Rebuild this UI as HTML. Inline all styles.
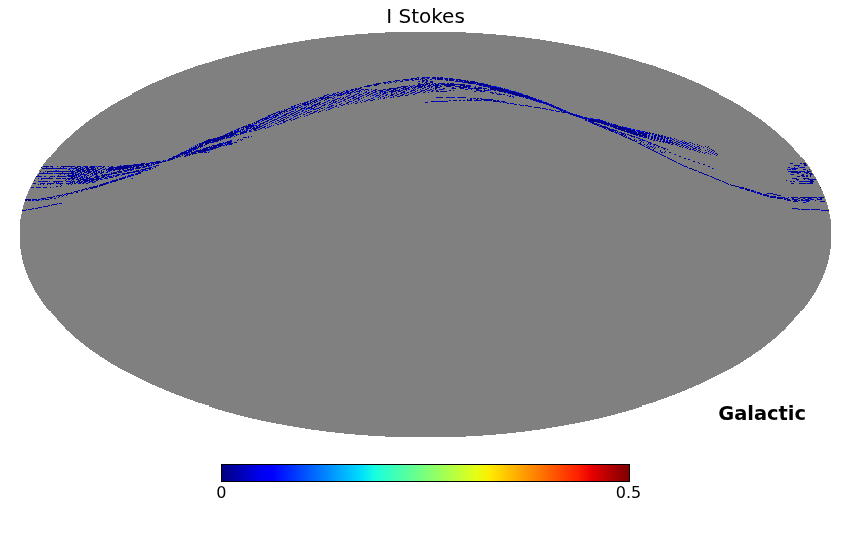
<!DOCTYPE html>
<html><head><meta charset="utf-8"><title>I Stokes</title>
<style>html,body{margin:0;padding:0;background:#fff;overflow:hidden}body{width:850px;height:540px;position:relative}</style>
</head><body>
<svg width="850" height="540" viewBox="0 0 850 540" style="position:absolute;left:0;top:0">
<defs><linearGradient id="jet" x1="0" y1="0" x2="1" y2="0"><stop offset="0.0000" stop-color="#000080"/><stop offset="0.0312" stop-color="#0000a4"/><stop offset="0.0625" stop-color="#0000c8"/><stop offset="0.0938" stop-color="#0000ed"/><stop offset="0.1250" stop-color="#0000ff"/><stop offset="0.1562" stop-color="#0020ff"/><stop offset="0.1875" stop-color="#0040ff"/><stop offset="0.2188" stop-color="#0060ff"/><stop offset="0.2500" stop-color="#0080ff"/><stop offset="0.2812" stop-color="#00a0ff"/><stop offset="0.3125" stop-color="#00c0ff"/><stop offset="0.3438" stop-color="#00e0fb"/><stop offset="0.3750" stop-color="#16ffe1"/><stop offset="0.4062" stop-color="#30ffc7"/><stop offset="0.4375" stop-color="#49ffad"/><stop offset="0.4688" stop-color="#63ff94"/><stop offset="0.5000" stop-color="#7dff7a"/><stop offset="0.5312" stop-color="#97ff60"/><stop offset="0.5625" stop-color="#b1ff46"/><stop offset="0.5938" stop-color="#caff2c"/><stop offset="0.6250" stop-color="#e4ff13"/><stop offset="0.6562" stop-color="#feed00"/><stop offset="0.6875" stop-color="#ffd000"/><stop offset="0.7188" stop-color="#ffb200"/><stop offset="0.7500" stop-color="#ff9400"/><stop offset="0.7812" stop-color="#ff7700"/><stop offset="0.8125" stop-color="#ff5900"/><stop offset="0.8438" stop-color="#ff3b00"/><stop offset="0.8750" stop-color="#ff1e00"/><stop offset="0.9062" stop-color="#e80000"/><stop offset="0.9375" stop-color="#c40000"/><stop offset="0.9688" stop-color="#9f0000"/><stop offset="1.0000" stop-color="#800000"/></linearGradient></defs>
<g shape-rendering="crispEdges">
<path d="M385 32h81v1h-81zM368 33h115v1h-115zM355 34h141v1h-141zM344 35h163v1h-163zM335 36h181v1h-181zM326 37h199v1h-199zM319 38h213v1h-213zM311 39h229v1h-229zM305 40h241v1h-241zM299 41h253v1h-253zM293 42h265v1h-265zM287 43h277v1h-277zM282 44h287v1h-287zM276 45h299v1h-299zM271 46h309v1h-309zM266 47h319v1h-319zM261 48h329v1h-329zM257 49h337v1h-337zM252 50h347v1h-347zM248 51h355v1h-355zM244 52h363v1h-363zM240 53h371v1h-371zM236 54h379v1h-379zM233 55h385v1h-385zM229 56h393v1h-393zM225 57h401v1h-401zM222 58h407v1h-407zM218 59h415v1h-415zM215 60h421v1h-421zM212 61h427v1h-427zM209 62h433v1h-433zM205 63h441v1h-441zM202 64h447v1h-447zM198 65h455v1h-455zM195 66h461v1h-461zM193 67h465v1h-465zM190 68h471v1h-471zM187 69h477v1h-477zM184 70h483v1h-483zM182 71h487v1h-487zM179 72h493v1h-493zM176 73h499v1h-499zM174 74h503v1h-503zM171 75h509v1h-509zM169 76h513v1h-513zM166 77h519v1h-519zM164 78h523v1h-523zM162 79h527v1h-527zM159 80h533v1h-533zM157 81h537v1h-537zM155 82h541v1h-541zM152 83h547v1h-547zM150 84h551v1h-551zM148 85h555v1h-555zM146 86h559v1h-559zM144 87h563v1h-563zM142 88h567v1h-567zM140 89h571v1h-571zM138 90h575v1h-575zM136 91h579v1h-579zM134 92h583v1h-583zM132 93h587v1h-587zM132 94h587v1h-587zM130 95h591v1h-591zM128 96h595v1h-595zM126 97h599v1h-599zM124 98h603v1h-603zM122 99h607v1h-607zM120 100h611v1h-611zM118 101h615v1h-615zM117 102h617v1h-617zM115 103h621v1h-621zM113 104h625v1h-625zM111 105h629v1h-629zM110 106h631v1h-631zM108 107h635v1h-635zM107 108h637v1h-637zM105 109h641v1h-641zM104 110h643v1h-643zM102 111h647v1h-647zM100 112h651v1h-651zM99 113h653v1h-653zM98 114h655v1h-655zM96 115h659v1h-659zM95 116h661v1h-661zM93 117h665v1h-665zM92 118h667v1h-667zM90 119h671v1h-671zM89 120h673v1h-673zM88 121h675v1h-675zM86 122h679v1h-679zM85 123h681v1h-681zM84 124h683v1h-683zM83 125h685v1h-685zM81 126h689v1h-689zM80 127h691v1h-691zM79 128h693v1h-693zM78 129h695v1h-695zM76 130h699v1h-699zM75 131h701v1h-701zM74 132h703v1h-703zM73 133h705v1h-705zM72 134h707v1h-707zM71 135h709v1h-709zM70 136h711v1h-711zM69 137h713v1h-713zM67 138h717v1h-717zM66 139h719v1h-719zM65 140h721v1h-721zM64 141h723v1h-723zM63 142h725v1h-725zM62 143h727v1h-727zM61 144h729v1h-729zM60 145h731v1h-731zM59 146h733v1h-733zM58 147h735v1h-735zM57 148h737v1h-737zM57 149h737v1h-737zM56 150h739v1h-739zM55 151h741v1h-741zM54 152h743v1h-743zM53 153h745v1h-745zM52 154h747v1h-747zM51 155h749v1h-749zM51 156h749v1h-749zM49 157h753v1h-753zM48 158h755v1h-755zM47 159h757v1h-757zM46 160h759v1h-759zM46 161h759v1h-759zM45 162h761v1h-761zM44 163h763v1h-763zM43 164h765v1h-765zM43 165h765v1h-765zM42 166h767v1h-767zM41 167h769v1h-769zM41 168h769v1h-769zM40 169h771v1h-771zM39 170h773v1h-773zM39 171h773v1h-773zM39 172h773v1h-773zM38 173h775v1h-775zM37 174h777v1h-777zM37 175h777v1h-777zM36 176h779v1h-779zM35 177h781v1h-781zM35 178h781v1h-781zM34 179h783v1h-783zM34 180h783v1h-783zM33 181h785v1h-785zM33 182h785v1h-785zM32 183h787v1h-787zM32 184h787v1h-787zM31 185h789v1h-789zM31 186h789v1h-789zM30 187h791v1h-791zM30 188h791v1h-791zM29 189h793v1h-793zM29 190h793v1h-793zM28 191h795v1h-795zM28 192h795v1h-795zM28 193h795v1h-795zM27 194h797v1h-797zM27 195h797v1h-797zM26 196h799v1h-799zM26 197h799v1h-799zM26 198h799v1h-799zM25 199h801v1h-801zM25 200h801v1h-801zM25 201h801v1h-801zM24 202h803v1h-803zM24 203h803v1h-803zM24 204h803v1h-803zM23 205h805v1h-805zM23 206h805v1h-805zM23 207h805v1h-805zM23 208h805v1h-805zM22 209h807v1h-807zM22 210h807v1h-807zM22 211h807v1h-807zM22 212h807v1h-807zM22 213h807v1h-807zM21 214h809v1h-809zM21 215h809v1h-809zM21 216h809v1h-809zM21 217h809v1h-809zM21 218h809v1h-809zM20 219h811v1h-811zM20 220h811v1h-811zM20 221h811v1h-811zM20 222h811v1h-811zM20 223h811v1h-811zM20 224h811v1h-811zM20 225h811v1h-811zM20 226h811v1h-811zM20 227h811v1h-811zM20 228h811v1h-811zM20 229h811v1h-811zM20 230h811v1h-811zM20 231h811v1h-811zM20 232h811v1h-811zM20 233h811v1h-811zM20 234h811v1h-811zM20 235h811v1h-811zM20 236h811v1h-811zM20 237h811v1h-811zM20 238h811v1h-811zM20 239h811v1h-811zM20 240h811v1h-811zM20 241h811v1h-811zM20 242h811v1h-811zM20 243h811v1h-811zM20 244h811v1h-811zM20 245h811v1h-811zM20 246h811v1h-811zM20 247h811v1h-811zM20 248h811v1h-811zM21 249h809v1h-809zM21 250h809v1h-809zM21 251h809v1h-809zM21 252h809v1h-809zM21 253h809v1h-809zM21 254h809v1h-809zM22 255h807v1h-807zM22 256h807v1h-807zM22 257h807v1h-807zM22 258h807v1h-807zM22 259h807v1h-807zM23 260h805v1h-805zM23 261h805v1h-805zM23 262h805v1h-805zM23 263h805v1h-805zM24 264h803v1h-803zM24 265h803v1h-803zM24 266h803v1h-803zM25 267h801v1h-801zM25 268h801v1h-801zM25 269h801v1h-801zM26 270h799v1h-799zM26 271h799v1h-799zM26 272h799v1h-799zM27 273h797v1h-797zM27 274h797v1h-797zM28 275h795v1h-795zM28 276h795v1h-795zM28 277h795v1h-795zM29 278h793v1h-793zM29 279h793v1h-793zM30 280h791v1h-791zM30 281h791v1h-791zM31 282h789v1h-789zM31 283h789v1h-789zM32 284h787v1h-787zM32 285h787v1h-787zM33 286h785v1h-785zM33 287h785v1h-785zM34 288h783v1h-783zM34 289h783v1h-783zM35 290h781v1h-781zM35 291h781v1h-781zM36 292h779v1h-779zM37 293h777v1h-777zM37 294h777v1h-777zM38 295h775v1h-775zM39 296h773v1h-773zM39 297h773v1h-773zM40 298h771v1h-771zM41 299h769v1h-769zM41 300h769v1h-769zM42 301h767v1h-767zM43 302h765v1h-765zM43 303h765v1h-765zM44 304h763v1h-763zM45 305h761v1h-761zM46 306h759v1h-759zM46 307h759v1h-759zM47 308h757v1h-757zM48 309h755v1h-755zM49 310h753v1h-753zM51 311h749v1h-749zM51 312h749v1h-749zM52 313h747v1h-747zM53 314h745v1h-745zM54 315h743v1h-743zM55 316h741v1h-741zM56 317h739v1h-739zM57 318h737v1h-737zM57 319h737v1h-737zM58 320h735v1h-735zM59 321h733v1h-733zM60 322h731v1h-731zM61 323h729v1h-729zM62 324h727v1h-727zM63 325h725v1h-725zM64 326h723v1h-723zM65 327h721v1h-721zM65 328h721v1h-721zM66 329h719v1h-719zM67 330h717v1h-717zM69 331h713v1h-713zM70 332h711v1h-711zM71 333h709v1h-709zM72 334h707v1h-707zM73 335h705v1h-705zM74 336h703v1h-703zM75 337h701v1h-701zM76 338h699v1h-699zM78 339h695v1h-695zM79 340h693v1h-693zM80 341h691v1h-691zM81 342h689v1h-689zM83 343h685v1h-685zM84 344h683v1h-683zM85 345h681v1h-681zM86 346h679v1h-679zM88 347h675v1h-675zM89 348h673v1h-673zM90 349h671v1h-671zM92 350h667v1h-667zM93 351h665v1h-665zM95 352h661v1h-661zM96 353h659v1h-659zM98 354h655v1h-655zM99 355h653v1h-653zM100 356h651v1h-651zM102 357h647v1h-647zM104 358h643v1h-643zM105 359h641v1h-641zM107 360h637v1h-637zM108 361h635v1h-635zM110 362h631v1h-631zM111 363h629v1h-629zM113 364h625v1h-625zM115 365h621v1h-621zM117 366h617v1h-617zM118 367h615v1h-615zM120 368h611v1h-611zM122 369h607v1h-607zM124 370h603v1h-603zM126 371h599v1h-599zM128 372h595v1h-595zM130 373h591v1h-591zM132 374h587v1h-587zM134 375h583v1h-583zM136 376h579v1h-579zM138 377h575v1h-575zM140 378h571v1h-571zM142 379h567v1h-567zM144 380h563v1h-563zM146 381h559v1h-559zM148 382h555v1h-555zM150 383h551v1h-551zM152 384h547v1h-547zM155 385h541v1h-541zM157 386h537v1h-537zM159 387h533v1h-533zM162 388h527v1h-527zM164 389h523v1h-523zM166 390h519v1h-519zM169 391h513v1h-513zM171 392h509v1h-509zM174 393h503v1h-503zM176 394h499v1h-499zM179 395h493v1h-493zM182 396h487v1h-487zM184 397h483v1h-483zM187 398h477v1h-477zM190 399h471v1h-471zM193 400h465v1h-465zM195 401h461v1h-461zM198 402h455v1h-455zM202 403h447v1h-447zM205 404h441v1h-441zM209 405h433v1h-433zM209 406h433v1h-433zM212 407h427v1h-427zM215 408h421v1h-421zM218 409h415v1h-415zM222 410h407v1h-407zM225 411h401v1h-401zM229 412h393v1h-393zM233 413h385v1h-385zM236 414h379v1h-379zM240 415h371v1h-371zM244 416h363v1h-363zM248 417h355v1h-355zM252 418h347v1h-347zM257 419h337v1h-337zM261 420h329v1h-329zM266 421h319v1h-319zM271 422h309v1h-309zM276 423h299v1h-299zM282 424h287v1h-287zM287 425h277v1h-277zM293 426h265v1h-265zM299 427h253v1h-253zM305 428h241v1h-241zM311 429h229v1h-229zM319 430h213v1h-213zM326 431h199v1h-199zM335 432h181v1h-181zM344 433h163v1h-163zM355 434h141v1h-141zM368 435h115v1h-115zM385 436h81v1h-81z" fill="#808080"/>
<path d="M417 77h1v1h-1zM422 77h3v1h-3zM426 77h2v1h-2zM432 77h4v1h-4zM438 77h1v1h-1zM441 77h2v1h-2zM411 78h6v1h-6zM418 78h1v1h-1zM421 78h4v1h-4zM427 78h1v1h-1zM433 78h3v1h-3zM437 78h5v1h-5zM444 78h1v1h-1zM446 78h2v1h-2zM449 78h1v1h-1zM451 78h1v1h-1zM403 79h5v1h-5zM411 79h2v1h-2zM415 79h3v1h-3zM420 79h1v1h-1zM422 79h1v1h-1zM425 79h2v1h-2zM430 79h1v1h-1zM435 79h1v1h-1zM437 79h6v1h-6zM445 79h3v1h-3zM449 79h5v1h-5zM457 79h4v1h-4zM395 80h4v1h-4zM402 80h1v1h-1zM406 80h3v1h-3zM412 80h1v1h-1zM422 80h3v1h-3zM426 80h2v1h-2zM446 80h2v1h-2zM449 80h5v1h-5zM456 80h2v1h-2zM460 80h3v1h-3zM464 80h1v1h-1zM467 80h1v1h-1zM388 81h3v1h-3zM393 81h1v1h-1zM396 81h1v1h-1zM400 81h1v1h-1zM402 81h1v1h-1zM419 81h1v1h-1zM423 81h1v1h-1zM426 81h1v1h-1zM430 81h2v1h-2zM457 81h3v1h-3zM461 81h2v1h-2zM464 81h5v1h-5zM470 81h4v1h-4zM383 82h3v1h-3zM387 82h1v1h-1zM390 82h2v1h-2zM395 82h1v1h-1zM422 82h1v1h-1zM425 82h2v1h-2zM430 82h3v1h-3zM463 82h6v1h-6zM470 82h5v1h-5zM476 82h2v1h-2zM376 83h5v1h-5zM384 83h2v1h-2zM388 83h1v1h-1zM418 83h2v1h-2zM424 83h1v1h-1zM426 83h4v1h-4zM434 83h2v1h-2zM438 83h1v1h-1zM440 83h1v1h-1zM442 83h3v1h-3zM447 83h2v1h-2zM450 83h1v1h-1zM452 83h1v1h-1zM468 83h1v1h-1zM470 83h4v1h-4zM475 83h1v1h-1zM477 83h2v1h-2zM480 83h2v1h-2zM483 83h1v1h-1zM373 84h6v1h-6zM418 84h6v1h-6zM425 84h3v1h-3zM429 84h1v1h-1zM431 84h1v1h-1zM433 84h1v1h-1zM435 84h4v1h-4zM441 84h4v1h-4zM446 84h12v1h-12zM459 84h6v1h-6zM477 84h8v1h-8zM486 84h2v1h-2zM368 85h4v1h-4zM374 85h3v1h-3zM409 85h1v1h-1zM417 85h4v1h-4zM422 85h3v1h-3zM428 85h3v1h-3zM433 85h1v1h-1zM435 85h4v1h-4zM440 85h1v1h-1zM444 85h6v1h-6zM451 85h4v1h-4zM460 85h5v1h-5zM466 85h1v1h-1zM468 85h1v1h-1zM479 85h3v1h-3zM485 85h3v1h-3zM489 85h1v1h-1zM364 86h5v1h-5zM401 86h6v1h-6zM410 86h2v1h-2zM415 86h8v1h-8zM424 86h1v1h-1zM427 86h3v1h-3zM431 86h1v1h-1zM435 86h3v1h-3zM440 86h2v1h-2zM446 86h5v1h-5zM455 86h1v1h-1zM457 86h4v1h-4zM463 86h7v1h-7zM484 86h2v1h-2zM487 86h4v1h-4zM492 86h1v1h-1zM360 87h2v1h-2zM397 87h3v1h-3zM403 87h3v1h-3zM411 87h1v1h-1zM414 87h2v1h-2zM419 87h3v1h-3zM425 87h1v1h-1zM429 87h1v1h-1zM431 87h1v1h-1zM435 87h5v1h-5zM452 87h2v1h-2zM459 87h6v1h-6zM469 87h1v1h-1zM475 87h1v1h-1zM479 87h2v1h-2zM488 87h1v1h-1zM490 87h7v1h-7zM356 88h1v1h-1zM358 88h3v1h-3zM389 88h7v1h-7zM397 88h1v1h-1zM401 88h1v1h-1zM403 88h1v1h-1zM405 88h4v1h-4zM412 88h1v1h-1zM414 88h1v1h-1zM422 88h1v1h-1zM427 88h1v1h-1zM433 88h1v1h-1zM435 88h2v1h-2zM443 88h2v1h-2zM452 88h4v1h-4zM460 88h4v1h-4zM469 88h1v1h-1zM471 88h2v1h-2zM474 88h8v1h-8zM483 88h1v1h-1zM485 88h1v1h-1zM490 88h13v1h-13zM504 88h1v1h-1zM351 89h3v1h-3zM355 89h2v1h-2zM361 89h1v1h-1zM363 89h1v1h-1zM365 89h3v1h-3zM371 89h1v1h-1zM375 89h1v1h-1zM384 89h2v1h-2zM387 89h4v1h-4zM393 89h3v1h-3zM399 89h1v1h-1zM404 89h3v1h-3zM408 89h1v1h-1zM413 89h1v1h-1zM415 89h1v1h-1zM420 89h1v1h-1zM425 89h2v1h-2zM430 89h2v1h-2zM435 89h1v1h-1zM441 89h2v1h-2zM465 89h2v1h-2zM476 89h3v1h-3zM484 89h1v1h-1zM488 89h1v1h-1zM490 89h6v1h-6zM497 89h9v1h-9zM346 90h1v1h-1zM351 90h2v1h-2zM355 90h1v1h-1zM360 90h1v1h-1zM364 90h1v1h-1zM368 90h1v1h-1zM374 90h2v1h-2zM378 90h5v1h-5zM387 90h1v1h-1zM391 90h3v1h-3zM395 90h2v1h-2zM398 90h1v1h-1zM401 90h1v1h-1zM411 90h2v1h-2zM414 90h1v1h-1zM417 90h1v1h-1zM421 90h2v1h-2zM424 90h1v1h-1zM429 90h1v1h-1zM432 90h1v1h-1zM436 90h2v1h-2zM450 90h1v1h-1zM476 90h2v1h-2zM479 90h3v1h-3zM484 90h3v1h-3zM494 90h2v1h-2zM497 90h12v1h-12zM347 91h2v1h-2zM352 91h2v1h-2zM356 91h4v1h-4zM366 91h1v1h-1zM372 91h1v1h-1zM375 91h2v1h-2zM380 91h3v1h-3zM384 91h1v1h-1zM389 91h1v1h-1zM391 91h5v1h-5zM399 91h2v1h-2zM403 91h2v1h-2zM411 91h1v1h-1zM415 91h1v1h-1zM420 91h2v1h-2zM425 91h1v1h-1zM431 91h2v1h-2zM436 91h3v1h-3zM440 91h7v1h-7zM474 91h2v1h-2zM480 91h2v1h-2zM483 91h2v1h-2zM499 91h3v1h-3zM503 91h11v1h-11zM337 92h1v1h-1zM341 92h2v1h-2zM346 92h3v1h-3zM350 92h2v1h-2zM354 92h1v1h-1zM359 92h1v1h-1zM365 92h1v1h-1zM368 92h2v1h-2zM374 92h1v1h-1zM382 92h1v1h-1zM384 92h2v1h-2zM387 92h1v1h-1zM391 92h1v1h-1zM396 92h1v1h-1zM401 92h1v1h-1zM403 92h1v1h-1zM407 92h2v1h-2zM413 92h1v1h-1zM418 92h2v1h-2zM423 92h2v1h-2zM490 92h1v1h-1zM492 92h1v1h-1zM495 92h1v1h-1zM504 92h2v1h-2zM508 92h9v1h-9zM335 93h1v1h-1zM339 93h3v1h-3zM343 93h1v1h-1zM345 93h1v1h-1zM347 93h4v1h-4zM358 93h1v1h-1zM363 93h1v1h-1zM367 93h2v1h-2zM371 93h2v1h-2zM377 93h1v1h-1zM380 93h1v1h-1zM383 93h3v1h-3zM391 93h1v1h-1zM394 93h1v1h-1zM400 93h2v1h-2zM404 93h1v1h-1zM406 93h1v1h-1zM410 93h2v1h-2zM415 93h1v1h-1zM493 93h1v1h-1zM496 93h1v1h-1zM499 93h1v1h-1zM508 93h1v1h-1zM510 93h3v1h-3zM514 93h6v1h-6zM327 94h1v1h-1zM332 94h1v1h-1zM336 94h3v1h-3zM341 94h2v1h-2zM350 94h1v1h-1zM355 94h2v1h-2zM359 94h2v1h-2zM366 94h1v1h-1zM369 94h2v1h-2zM374 94h1v1h-1zM382 94h1v1h-1zM391 94h3v1h-3zM397 94h2v1h-2zM402 94h2v1h-2zM408 94h1v1h-1zM413 94h1v1h-1zM497 94h1v1h-1zM499 94h3v1h-3zM503 94h2v1h-2zM513 94h10v1h-10zM324 95h2v1h-2zM329 95h3v1h-3zM337 95h5v1h-5zM349 95h1v1h-1zM354 95h1v1h-1zM359 95h1v1h-1zM362 95h1v1h-1zM368 95h1v1h-1zM372 95h1v1h-1zM376 95h3v1h-3zM380 95h1v1h-1zM386 95h1v1h-1zM390 95h3v1h-3zM396 95h1v1h-1zM400 95h3v1h-3zM405 95h3v1h-3zM507 95h1v1h-1zM510 95h1v1h-1zM516 95h7v1h-7zM524 95h1v1h-1zM526 95h1v1h-1zM323 96h2v1h-2zM327 96h2v1h-2zM347 96h1v1h-1zM351 96h2v1h-2zM361 96h1v1h-1zM366 96h1v1h-1zM379 96h1v1h-1zM383 96h1v1h-1zM388 96h1v1h-1zM393 96h1v1h-1zM397 96h3v1h-3zM509 96h1v1h-1zM519 96h1v1h-1zM522 96h3v1h-3zM526 96h2v1h-2zM529 96h1v1h-1zM320 97h3v1h-3zM325 97h4v1h-4zM330 97h1v1h-1zM334 97h1v1h-1zM340 97h1v1h-1zM343 97h1v1h-1zM345 97h1v1h-1zM348 97h2v1h-2zM353 97h3v1h-3zM358 97h1v1h-1zM363 97h1v1h-1zM378 97h1v1h-1zM380 97h1v1h-1zM384 97h1v1h-1zM437 97h6v1h-6zM446 97h1v1h-1zM448 97h2v1h-2zM453 97h1v1h-1zM458 97h1v1h-1zM460 97h1v1h-1zM462 97h2v1h-2zM465 97h1v1h-1zM513 97h1v1h-1zM526 97h4v1h-4zM531 97h1v1h-1zM315 98h1v1h-1zM319 98h4v1h-4zM324 98h2v1h-2zM327 98h2v1h-2zM332 98h2v1h-2zM337 98h1v1h-1zM339 98h1v1h-1zM342 98h2v1h-2zM353 98h1v1h-1zM356 98h3v1h-3zM361 98h1v1h-1zM371 98h1v1h-1zM383 98h1v1h-1zM471 98h1v1h-1zM474 98h2v1h-2zM477 98h2v1h-2zM480 98h1v1h-1zM526 98h2v1h-2zM530 98h3v1h-3zM312 99h2v1h-2zM316 99h1v1h-1zM318 99h1v1h-1zM321 99h2v1h-2zM325 99h2v1h-2zM335 99h2v1h-2zM340 99h1v1h-1zM344 99h2v1h-2zM350 99h1v1h-1zM354 99h2v1h-2zM359 99h1v1h-1zM368 99h2v1h-2zM373 99h2v1h-2zM378 99h1v1h-1zM467 99h1v1h-1zM470 99h2v1h-2zM476 99h2v1h-2zM481 99h9v1h-9zM491 99h2v1h-2zM531 99h4v1h-4zM536 99h1v1h-1zM310 100h2v1h-2zM314 100h3v1h-3zM320 100h1v1h-1zM324 100h1v1h-1zM328 100h2v1h-2zM333 100h2v1h-2zM344 100h1v1h-1zM348 100h1v1h-1zM353 100h1v1h-1zM362 100h1v1h-1zM367 100h1v1h-1zM370 100h2v1h-2zM449 100h1v1h-1zM453 100h4v1h-4zM460 100h1v1h-1zM463 100h1v1h-1zM467 100h5v1h-5zM475 100h2v1h-2zM478 100h3v1h-3zM484 100h1v1h-1zM486 100h1v1h-1zM490 100h2v1h-2zM493 100h3v1h-3zM497 100h2v1h-2zM535 100h4v1h-4zM307 101h1v1h-1zM312 101h3v1h-3zM316 101h1v1h-1zM331 101h1v1h-1zM333 101h1v1h-1zM335 101h2v1h-2zM345 101h1v1h-1zM349 101h1v1h-1zM356 101h1v1h-1zM365 101h1v1h-1zM432 101h2v1h-2zM437 101h1v1h-1zM440 101h3v1h-3zM445 101h3v1h-3zM493 101h3v1h-3zM497 101h2v1h-2zM501 101h1v1h-1zM503 101h1v1h-1zM536 101h1v1h-1zM538 101h1v1h-1zM540 101h2v1h-2zM305 102h3v1h-3zM310 102h2v1h-2zM314 102h2v1h-2zM319 102h2v1h-2zM324 102h2v1h-2zM329 102h2v1h-2zM333 102h1v1h-1zM335 102h1v1h-1zM338 102h2v1h-2zM347 102h2v1h-2zM353 102h1v1h-1zM357 102h1v1h-1zM361 102h1v1h-1zM425 102h1v1h-1zM427 102h1v1h-1zM500 102h1v1h-1zM503 102h1v1h-1zM505 102h2v1h-2zM542 102h1v1h-1zM545 102h2v1h-2zM300 103h1v1h-1zM303 103h3v1h-3zM307 103h2v1h-2zM310 103h1v1h-1zM312 103h1v1h-1zM317 103h3v1h-3zM322 103h1v1h-1zM336 103h1v1h-1zM346 103h2v1h-2zM356 103h1v1h-1zM508 103h1v1h-1zM510 103h1v1h-1zM545 103h2v1h-2zM298 104h1v1h-1zM303 104h6v1h-6zM311 104h1v1h-1zM314 104h4v1h-4zM319 104h2v1h-2zM324 104h2v1h-2zM329 104h2v1h-2zM339 104h2v1h-2zM344 104h1v1h-1zM348 104h1v1h-1zM515 104h2v1h-2zM519 104h1v1h-1zM546 104h3v1h-3zM294 105h2v1h-2zM299 105h2v1h-2zM304 105h1v1h-1zM313 105h3v1h-3zM323 105h2v1h-2zM331 105h2v1h-2zM336 105h1v1h-1zM341 105h1v1h-1zM521 105h1v1h-1zM523 105h1v1h-1zM525 105h3v1h-3zM549 105h1v1h-1zM551 105h3v1h-3zM291 106h1v1h-1zM297 106h2v1h-2zM311 106h2v1h-2zM321 106h1v1h-1zM329 106h1v1h-1zM331 106h1v1h-1zM335 106h1v1h-1zM528 106h1v1h-1zM530 106h2v1h-2zM551 106h3v1h-3zM555 106h1v1h-1zM291 107h1v1h-1zM294 107h1v1h-1zM296 107h2v1h-2zM299 107h2v1h-2zM305 107h1v1h-1zM308 107h4v1h-4zM314 107h1v1h-1zM319 107h2v1h-2zM327 107h3v1h-3zM332 107h2v1h-2zM534 107h6v1h-6zM553 107h4v1h-4zM558 107h1v1h-1zM288 108h2v1h-2zM292 108h2v1h-2zM297 108h1v1h-1zM301 108h4v1h-4zM307 108h2v1h-2zM311 108h1v1h-1zM318 108h1v1h-1zM321 108h2v1h-2zM540 108h1v1h-1zM542 108h3v1h-3zM556 108h1v1h-1zM558 108h1v1h-1zM286 109h2v1h-2zM291 109h3v1h-3zM300 109h2v1h-2zM314 109h2v1h-2zM319 109h1v1h-1zM324 109h1v1h-1zM328 109h2v1h-2zM546 109h1v1h-1zM550 109h1v1h-1zM559 109h2v1h-2zM284 110h3v1h-3zM289 110h2v1h-2zM298 110h2v1h-2zM302 110h1v1h-1zM308 110h1v1h-1zM317 110h1v1h-1zM322 110h1v1h-1zM326 110h1v1h-1zM551 110h1v1h-1zM553 110h1v1h-1zM555 110h1v1h-1zM561 110h2v1h-2zM564 110h1v1h-1zM278 111h2v1h-2zM281 111h4v1h-4zM286 111h2v1h-2zM293 111h1v1h-1zM296 111h1v1h-1zM302 111h1v1h-1zM306 111h1v1h-1zM310 111h2v1h-2zM314 111h2v1h-2zM319 111h2v1h-2zM558 111h2v1h-2zM561 111h1v1h-1zM563 111h3v1h-3zM276 112h1v1h-1zM279 112h3v1h-3zM284 112h1v1h-1zM294 112h2v1h-2zM298 112h1v1h-1zM307 112h3v1h-3zM313 112h2v1h-2zM318 112h1v1h-1zM562 112h6v1h-6zM569 112h1v1h-1zM273 113h3v1h-3zM278 113h2v1h-2zM282 113h1v1h-1zM286 113h3v1h-3zM292 113h2v1h-2zM296 113h2v1h-2zM306 113h1v1h-1zM311 113h2v1h-2zM568 113h1v1h-1zM570 113h2v1h-2zM272 114h1v1h-1zM274 114h1v1h-1zM276 114h2v1h-2zM284 114h3v1h-3zM291 114h1v1h-1zM294 114h1v1h-1zM300 114h1v1h-1zM303 114h2v1h-2zM309 114h1v1h-1zM570 114h3v1h-3zM574 114h1v1h-1zM269 115h1v1h-1zM274 115h4v1h-4zM283 115h3v1h-3zM288 115h2v1h-2zM292 115h2v1h-2zM297 115h1v1h-1zM307 115h1v1h-1zM573 115h4v1h-4zM578 115h1v1h-1zM268 116h2v1h-2zM273 116h1v1h-1zM275 116h1v1h-1zM281 116h2v1h-2zM295 116h1v1h-1zM300 116h1v1h-1zM576 116h2v1h-2zM579 116h1v1h-1zM581 116h1v1h-1zM266 117h2v1h-2zM269 117h2v1h-2zM275 117h1v1h-1zM278 117h1v1h-1zM280 117h1v1h-1zM285 117h1v1h-1zM287 117h2v1h-2zM297 117h1v1h-1zM581 117h2v1h-2zM584 117h1v1h-1zM262 118h1v1h-1zM264 118h5v1h-5zM272 118h1v1h-1zM277 118h1v1h-1zM281 118h2v1h-2zM286 118h1v1h-1zM291 118h1v1h-1zM295 118h1v1h-1zM583 118h2v1h-2zM586 118h1v1h-1zM588 118h1v1h-1zM260 119h3v1h-3zM264 119h1v1h-1zM270 119h1v1h-1zM275 119h2v1h-2zM280 119h1v1h-1zM283 119h2v1h-2zM289 119h2v1h-2zM293 119h2v1h-2zM586 119h1v1h-1zM588 119h3v1h-3zM592 119h3v1h-3zM259 120h1v1h-1zM262 120h2v1h-2zM268 120h1v1h-1zM272 120h2v1h-2zM277 120h2v1h-2zM281 120h3v1h-3zM286 120h2v1h-2zM291 120h1v1h-1zM589 120h9v1h-9zM599 120h2v1h-2zM256 121h3v1h-3zM261 121h1v1h-1zM266 121h2v1h-2zM270 121h2v1h-2zM275 121h1v1h-1zM280 121h1v1h-1zM283 121h1v1h-1zM285 121h1v1h-1zM589 121h12v1h-12zM602 121h2v1h-2zM254 122h1v1h-1zM256 122h1v1h-1zM259 122h1v1h-1zM263 122h1v1h-1zM269 122h1v1h-1zM272 122h1v1h-1zM278 122h1v1h-1zM284 122h1v1h-1zM592 122h2v1h-2zM598 122h8v1h-8zM608 122h1v1h-1zM252 123h1v1h-1zM255 123h2v1h-2zM260 123h3v1h-3zM266 123h2v1h-2zM276 123h1v1h-1zM592 123h3v1h-3zM596 123h1v1h-1zM601 123h1v1h-1zM603 123h1v1h-1zM605 123h5v1h-5zM248 124h3v1h-3zM260 124h1v1h-1zM264 124h2v1h-2zM278 124h1v1h-1zM595 124h5v1h-5zM604 124h3v1h-3zM608 124h1v1h-1zM610 124h2v1h-2zM613 124h1v1h-1zM246 125h1v1h-1zM249 125h4v1h-4zM259 125h1v1h-1zM262 125h1v1h-1zM267 125h1v1h-1zM597 125h2v1h-2zM608 125h1v1h-1zM610 125h8v1h-8zM243 126h1v1h-1zM245 126h3v1h-3zM249 126h4v1h-4zM256 126h1v1h-1zM259 126h3v1h-3zM264 126h1v1h-1zM269 126h1v1h-1zM600 126h6v1h-6zM611 126h8v1h-8zM620 126h1v1h-1zM622 126h1v1h-1zM241 127h3v1h-3zM245 127h3v1h-3zM250 127h1v1h-1zM253 127h1v1h-1zM256 127h3v1h-3zM262 127h2v1h-2zM603 127h3v1h-3zM607 127h1v1h-1zM614 127h3v1h-3zM618 127h6v1h-6zM238 128h2v1h-2zM243 128h1v1h-1zM246 128h3v1h-3zM250 128h1v1h-1zM252 128h6v1h-6zM260 128h2v1h-2zM265 128h1v1h-1zM604 128h2v1h-2zM608 128h2v1h-2zM615 128h2v1h-2zM618 128h9v1h-9zM237 129h2v1h-2zM241 129h3v1h-3zM246 129h1v1h-1zM253 129h3v1h-3zM258 129h1v1h-1zM608 129h3v1h-3zM613 129h1v1h-1zM618 129h5v1h-5zM624 129h7v1h-7zM633 129h1v1h-1zM238 130h1v1h-1zM240 130h1v1h-1zM244 130h1v1h-1zM250 130h1v1h-1zM254 130h3v1h-3zM609 130h5v1h-5zM615 130h2v1h-2zM622 130h3v1h-3zM626 130h5v1h-5zM632 130h3v1h-3zM231 131h2v1h-2zM234 131h2v1h-2zM238 131h1v1h-1zM240 131h1v1h-1zM243 131h1v1h-1zM245 131h2v1h-2zM249 131h2v1h-2zM611 131h2v1h-2zM615 131h1v1h-1zM624 131h11v1h-11zM638 131h1v1h-1zM643 131h1v1h-1zM230 132h3v1h-3zM234 132h3v1h-3zM240 132h4v1h-4zM245 132h1v1h-1zM615 132h3v1h-3zM619 132h1v1h-1zM621 132h1v1h-1zM627 132h2v1h-2zM630 132h7v1h-7zM638 132h2v1h-2zM641 132h3v1h-3zM645 132h3v1h-3zM649 132h1v1h-1zM227 133h9v1h-9zM240 133h3v1h-3zM621 133h1v1h-1zM623 133h2v1h-2zM630 133h7v1h-7zM638 133h7v1h-7zM646 133h2v1h-2zM650 133h1v1h-1zM653 133h1v1h-1zM225 134h2v1h-2zM229 134h5v1h-5zM235 134h2v1h-2zM238 134h1v1h-1zM240 134h1v1h-1zM619 134h5v1h-5zM625 134h1v1h-1zM627 134h1v1h-1zM633 134h8v1h-8zM642 134h5v1h-5zM649 134h1v1h-1zM652 134h1v1h-1zM655 134h2v1h-2zM658 134h1v1h-1zM224 135h9v1h-9zM236 135h1v1h-1zM621 135h2v1h-2zM624 135h2v1h-2zM629 135h3v1h-3zM636 135h2v1h-2zM639 135h7v1h-7zM648 135h1v1h-1zM654 135h3v1h-3zM658 135h2v1h-2zM661 135h2v1h-2zM220 136h9v1h-9zM230 136h2v1h-2zM251 136h1v1h-1zM623 136h2v1h-2zM631 136h3v1h-3zM639 136h1v1h-1zM641 136h2v1h-2zM644 136h3v1h-3zM648 136h1v1h-1zM652 136h1v1h-1zM654 136h2v1h-2zM659 136h4v1h-4zM664 136h1v1h-1zM217 137h8v1h-8zM226 137h2v1h-2zM230 137h1v1h-1zM243 137h3v1h-3zM248 137h1v1h-1zM625 137h1v1h-1zM636 137h1v1h-1zM643 137h1v1h-1zM645 137h2v1h-2zM648 137h1v1h-1zM651 137h2v1h-2zM654 137h2v1h-2zM658 137h1v1h-1zM661 137h2v1h-2zM664 137h2v1h-2zM667 137h2v1h-2zM670 137h1v1h-1zM213 138h12v1h-12zM628 138h3v1h-3zM638 138h2v1h-2zM648 138h1v1h-1zM651 138h2v1h-2zM654 138h1v1h-1zM657 138h2v1h-2zM661 138h1v1h-1zM664 138h1v1h-1zM667 138h2v1h-2zM674 138h1v1h-1zM208 139h4v1h-4zM213 139h6v1h-6zM220 139h1v1h-1zM238 139h1v1h-1zM240 139h1v1h-1zM242 139h1v1h-1zM630 139h2v1h-2zM634 139h1v1h-1zM642 139h1v1h-1zM650 139h2v1h-2zM654 139h1v1h-1zM657 139h2v1h-2zM660 139h1v1h-1zM663 139h2v1h-2zM672 139h1v1h-1zM676 139h1v1h-1zM206 140h13v1h-13zM220 140h1v1h-1zM230 140h1v1h-1zM237 140h1v1h-1zM241 140h1v1h-1zM633 140h2v1h-2zM639 140h2v1h-2zM642 140h3v1h-3zM653 140h2v1h-2zM656 140h1v1h-1zM660 140h1v1h-1zM664 140h1v1h-1zM669 140h3v1h-3zM674 140h1v1h-1zM678 140h1v1h-1zM682 140h1v1h-1zM204 141h7v1h-7zM212 141h6v1h-6zM228 141h3v1h-3zM636 141h1v1h-1zM641 141h1v1h-1zM647 141h1v1h-1zM659 141h2v1h-2zM662 141h2v1h-2zM666 141h2v1h-2zM672 141h1v1h-1zM676 141h1v1h-1zM684 141h1v1h-1zM202 142h4v1h-4zM207 142h5v1h-5zM223 142h1v1h-1zM225 142h1v1h-1zM227 142h4v1h-4zM235 142h2v1h-2zM640 142h1v1h-1zM643 142h1v1h-1zM649 142h2v1h-2zM663 142h1v1h-1zM665 142h4v1h-4zM670 142h3v1h-3zM674 142h2v1h-2zM678 142h2v1h-2zM682 142h1v1h-1zM686 142h1v1h-1zM690 142h1v1h-1zM199 143h1v1h-1zM201 143h1v1h-1zM203 143h1v1h-1zM205 143h3v1h-3zM219 143h3v1h-3zM225 143h1v1h-1zM227 143h6v1h-6zM638 143h3v1h-3zM648 143h1v1h-1zM650 143h1v1h-1zM668 143h2v1h-2zM672 143h2v1h-2zM676 143h2v1h-2zM684 143h2v1h-2zM688 143h1v1h-1zM692 143h1v1h-1zM197 144h1v1h-1zM199 144h4v1h-4zM206 144h1v1h-1zM218 144h5v1h-5zM225 144h1v1h-1zM229 144h3v1h-3zM640 144h2v1h-2zM644 144h1v1h-1zM647 144h1v1h-1zM650 144h1v1h-1zM654 144h1v1h-1zM671 144h2v1h-2zM675 144h2v1h-2zM678 144h2v1h-2zM682 144h1v1h-1zM694 144h1v1h-1zM697 144h1v1h-1zM195 145h1v1h-1zM199 145h4v1h-4zM204 145h1v1h-1zM212 145h3v1h-3zM216 145h6v1h-6zM223 145h1v1h-1zM226 145h1v1h-1zM642 145h1v1h-1zM654 145h1v1h-1zM657 145h1v1h-1zM677 145h1v1h-1zM681 145h1v1h-1zM684 145h1v1h-1zM688 145h1v1h-1zM699 145h1v1h-1zM195 146h2v1h-2zM199 146h3v1h-3zM209 146h1v1h-1zM211 146h1v1h-1zM213 146h4v1h-4zM219 146h2v1h-2zM644 146h1v1h-1zM648 146h1v1h-1zM650 146h2v1h-2zM658 146h2v1h-2zM680 146h1v1h-1zM683 146h1v1h-1zM690 146h2v1h-2zM694 146h1v1h-1zM697 146h2v1h-2zM701 146h1v1h-1zM705 146h1v1h-1zM708 146h1v1h-1zM193 147h4v1h-4zM198 147h1v1h-1zM200 147h1v1h-1zM207 147h11v1h-11zM646 147h2v1h-2zM649 147h1v1h-1zM652 147h1v1h-1zM655 147h1v1h-1zM658 147h1v1h-1zM661 147h2v1h-2zM682 147h1v1h-1zM685 147h1v1h-1zM688 147h1v1h-1zM696 147h1v1h-1zM699 147h1v1h-1zM707 147h1v1h-1zM191 148h1v1h-1zM193 148h2v1h-2zM196 148h2v1h-2zM204 148h4v1h-4zM210 148h6v1h-6zM648 148h2v1h-2zM654 148h1v1h-1zM663 148h2v1h-2zM687 148h1v1h-1zM690 148h1v1h-1zM693 148h3v1h-3zM698 148h1v1h-1zM709 148h1v1h-1zM189 149h1v1h-1zM191 149h1v1h-1zM193 149h1v1h-1zM195 149h1v1h-1zM200 149h1v1h-1zM202 149h5v1h-5zM208 149h2v1h-2zM211 149h2v1h-2zM650 149h1v1h-1zM653 149h1v1h-1zM664 149h1v1h-1zM667 149h1v1h-1zM689 149h2v1h-2zM692 149h1v1h-1zM696 149h1v1h-1zM700 149h1v1h-1zM707 149h1v1h-1zM711 149h1v1h-1zM188 150h4v1h-4zM193 150h1v1h-1zM196 150h13v1h-13zM652 150h2v1h-2zM660 150h1v1h-1zM694 150h2v1h-2zM698 150h2v1h-2zM705 150h1v1h-1zM709 150h1v1h-1zM712 150h1v1h-1zM185 151h1v1h-1zM188 151h2v1h-2zM191 151h1v1h-1zM195 151h6v1h-6zM203 151h1v1h-1zM205 151h1v1h-1zM654 151h2v1h-2zM665 151h1v1h-1zM697 151h1v1h-1zM700 151h1v1h-1zM711 151h1v1h-1zM714 151h1v1h-1zM182 152h5v1h-5zM188 152h1v1h-1zM191 152h4v1h-4zM198 152h5v1h-5zM205 152h2v1h-2zM208 152h1v1h-1zM656 152h2v1h-2zM661 152h1v1h-1zM669 152h2v1h-2zM699 152h1v1h-1zM706 152h1v1h-1zM180 153h7v1h-7zM189 153h1v1h-1zM191 153h6v1h-6zM659 153h1v1h-1zM704 153h1v1h-1zM712 153h1v1h-1zM715 153h2v1h-2zM178 154h3v1h-3zM182 154h1v1h-1zM184 154h1v1h-1zM186 154h5v1h-5zM192 154h1v1h-1zM661 154h1v1h-1zM675 154h1v1h-1zM714 154h1v1h-1zM717 154h1v1h-1zM177 155h3v1h-3zM182 155h1v1h-1zM185 155h3v1h-3zM189 155h1v1h-1zM662 155h1v1h-1zM716 155h1v1h-1zM173 156h2v1h-2zM176 156h3v1h-3zM180 156h1v1h-1zM184 156h2v1h-2zM665 156h1v1h-1zM679 156h2v1h-2zM173 157h1v1h-1zM176 157h2v1h-2zM667 157h1v1h-1zM169 158h5v1h-5zM668 158h1v1h-1zM684 158h2v1h-2zM168 159h2v1h-2zM171 159h2v1h-2zM670 159h2v1h-2zM689 159h1v1h-1zM165 160h1v1h-1zM168 160h2v1h-2zM672 160h1v1h-1zM156 161h4v1h-4zM162 161h4v1h-4zM674 161h2v1h-2zM693 161h2v1h-2zM152 162h4v1h-4zM157 162h4v1h-4zM676 162h1v1h-1zM698 162h1v1h-1zM141 163h4v1h-4zM147 163h3v1h-3zM151 163h2v1h-2zM157 163h2v1h-2zM679 163h1v1h-1zM791 163h1v1h-1zM801 163h1v1h-1zM803 163h3v1h-3zM134 164h2v1h-2zM137 164h2v1h-2zM140 164h4v1h-4zM145 164h4v1h-4zM153 164h1v1h-1zM704 164h1v1h-1zM804 164h2v1h-2zM126 165h2v1h-2zM129 165h15v1h-15zM146 165h4v1h-4zM151 165h1v1h-1zM156 165h2v1h-2zM682 165h1v1h-1zM794 165h5v1h-5zM805 165h1v1h-1zM43 166h2v1h-2zM46 166h2v1h-2zM51 166h1v1h-1zM57 166h1v1h-1zM61 166h6v1h-6zM68 166h2v1h-2zM71 166h1v1h-1zM73 166h2v1h-2zM77 166h3v1h-3zM84 166h1v1h-1zM87 166h1v1h-1zM90 166h3v1h-3zM98 166h2v1h-2zM101 166h1v1h-1zM104 166h1v1h-1zM108 166h1v1h-1zM112 166h1v1h-1zM119 166h2v1h-2zM122 166h10v1h-10zM133 166h2v1h-2zM136 166h3v1h-3zM143 166h4v1h-4zM148 166h1v1h-1zM155 166h1v1h-1zM685 166h2v1h-2zM708 166h1v1h-1zM798 166h1v1h-1zM41 167h1v1h-1zM63 167h1v1h-1zM75 167h3v1h-3zM80 167h1v1h-1zM82 167h1v1h-1zM85 167h3v1h-3zM89 167h6v1h-6zM97 167h1v1h-1zM103 167h1v1h-1zM110 167h9v1h-9zM120 167h9v1h-9zM130 167h4v1h-4zM136 167h5v1h-5zM142 167h2v1h-2zM150 167h1v1h-1zM155 167h1v1h-1zM788 167h1v1h-1zM800 167h1v1h-1zM802 167h1v1h-1zM42 168h4v1h-4zM47 168h7v1h-7zM56 168h6v1h-6zM63 168h1v1h-1zM66 168h1v1h-1zM69 168h1v1h-1zM73 168h4v1h-4zM78 168h3v1h-3zM82 168h1v1h-1zM84 168h1v1h-1zM86 168h3v1h-3zM91 168h2v1h-2zM95 168h1v1h-1zM100 168h2v1h-2zM105 168h1v1h-1zM108 168h5v1h-5zM115 168h3v1h-3zM119 168h9v1h-9zM130 168h1v1h-1zM133 168h1v1h-1zM135 168h5v1h-5zM146 168h5v1h-5zM152 168h1v1h-1zM689 168h3v1h-3zM712 168h1v1h-1zM794 168h4v1h-4zM69 169h1v1h-1zM77 169h2v1h-2zM80 169h4v1h-4zM86 169h2v1h-2zM89 169h7v1h-7zM98 169h2v1h-2zM103 169h2v1h-2zM106 169h1v1h-1zM108 169h4v1h-4zM113 169h8v1h-8zM122 169h2v1h-2zM127 169h6v1h-6zM141 169h5v1h-5zM149 169h1v1h-1zM692 169h2v1h-2zM787 169h1v1h-1zM789 169h2v1h-2zM792 169h1v1h-1zM794 169h2v1h-2zM803 169h2v1h-2zM70 170h1v1h-1zM76 170h4v1h-4zM82 170h4v1h-4zM87 170h3v1h-3zM92 170h2v1h-2zM95 170h3v1h-3zM101 170h1v1h-1zM106 170h1v1h-1zM108 170h4v1h-4zM114 170h1v1h-1zM119 170h1v1h-1zM123 170h3v1h-3zM128 170h1v1h-1zM131 170h1v1h-1zM137 170h2v1h-2zM142 170h1v1h-1zM694 170h3v1h-3zM807 170h1v1h-1zM40 171h1v1h-1zM47 171h5v1h-5zM53 171h1v1h-1zM55 171h7v1h-7zM63 171h1v1h-1zM65 171h5v1h-5zM72 171h1v1h-1zM74 171h1v1h-1zM77 171h2v1h-2zM80 171h1v1h-1zM83 171h2v1h-2zM86 171h5v1h-5zM93 171h1v1h-1zM96 171h1v1h-1zM99 171h1v1h-1zM103 171h1v1h-1zM117 171h5v1h-5zM124 171h2v1h-2zM134 171h6v1h-6zM141 171h2v1h-2zM789 171h1v1h-1zM791 171h5v1h-5zM797 171h1v1h-1zM800 171h1v1h-1zM802 171h1v1h-1zM807 171h4v1h-4zM43 172h1v1h-1zM47 172h1v1h-1zM62 172h1v1h-1zM71 172h3v1h-3zM75 172h3v1h-3zM80 172h2v1h-2zM84 172h3v1h-3zM88 172h2v1h-2zM93 172h2v1h-2zM96 172h1v1h-1zM98 172h2v1h-2zM101 172h3v1h-3zM106 172h2v1h-2zM114 172h3v1h-3zM118 172h1v1h-1zM120 172h2v1h-2zM127 172h6v1h-6zM134 172h1v1h-1zM138 172h3v1h-3zM699 172h3v1h-3zM791 172h5v1h-5zM798 172h3v1h-3zM804 172h1v1h-1zM806 172h3v1h-3zM39 173h1v1h-1zM41 173h5v1h-5zM47 173h1v1h-1zM49 173h1v1h-1zM51 173h2v1h-2zM56 173h1v1h-1zM59 173h4v1h-4zM64 173h9v1h-9zM75 173h1v1h-1zM78 173h1v1h-1zM81 173h1v1h-1zM83 173h1v1h-1zM87 173h1v1h-1zM91 173h2v1h-2zM94 173h3v1h-3zM100 173h1v1h-1zM111 173h3v1h-3zM115 173h2v1h-2zM123 173h6v1h-6zM136 173h2v1h-2zM140 173h1v1h-1zM702 173h2v1h-2zM797 173h2v1h-2zM806 173h2v1h-2zM809 173h3v1h-3zM60 174h1v1h-1zM68 174h1v1h-1zM72 174h2v1h-2zM75 174h4v1h-4zM80 174h3v1h-3zM84 174h1v1h-1zM86 174h1v1h-1zM90 174h1v1h-1zM94 174h3v1h-3zM102 174h1v1h-1zM104 174h4v1h-4zM109 174h1v1h-1zM117 174h3v1h-3zM122 174h2v1h-2zM131 174h2v1h-2zM136 174h2v1h-2zM704 174h1v1h-1zM706 174h1v1h-1zM791 174h3v1h-3zM802 174h2v1h-2zM810 174h2v1h-2zM38 175h1v1h-1zM58 175h1v1h-1zM68 175h2v1h-2zM72 175h1v1h-1zM74 175h3v1h-3zM84 175h1v1h-1zM87 175h2v1h-2zM96 175h1v1h-1zM101 175h3v1h-3zM106 175h1v1h-1zM108 175h1v1h-1zM113 175h1v1h-1zM116 175h2v1h-2zM128 175h1v1h-1zM132 175h2v1h-2zM707 175h2v1h-2zM801 175h3v1h-3zM807 175h1v1h-1zM810 175h1v1h-1zM36 176h2v1h-2zM39 176h2v1h-2zM44 176h1v1h-1zM50 176h3v1h-3zM54 176h1v1h-1zM58 176h1v1h-1zM60 176h3v1h-3zM64 176h2v1h-2zM68 176h2v1h-2zM71 176h4v1h-4zM78 176h1v1h-1zM82 176h1v1h-1zM90 176h1v1h-1zM96 176h3v1h-3zM102 176h3v1h-3zM108 176h1v1h-1zM110 176h2v1h-2zM113 176h1v1h-1zM115 176h2v1h-2zM125 176h1v1h-1zM129 176h2v1h-2zM710 176h2v1h-2zM797 176h3v1h-3zM803 176h2v1h-2zM806 176h2v1h-2zM810 176h1v1h-1zM49 177h1v1h-1zM71 177h2v1h-2zM74 177h4v1h-4zM81 177h2v1h-2zM84 177h1v1h-1zM86 177h2v1h-2zM89 177h1v1h-1zM94 177h2v1h-2zM97 177h2v1h-2zM101 177h1v1h-1zM103 177h1v1h-1zM105 177h2v1h-2zM110 177h1v1h-1zM112 177h1v1h-1zM123 177h3v1h-3zM713 177h1v1h-1zM38 178h1v1h-1zM42 178h2v1h-2zM47 178h1v1h-1zM49 178h4v1h-4zM56 178h5v1h-5zM63 178h3v1h-3zM67 178h2v1h-2zM70 178h5v1h-5zM77 178h1v1h-1zM80 178h1v1h-1zM83 178h1v1h-1zM86 178h4v1h-4zM91 178h3v1h-3zM96 178h5v1h-5zM106 178h2v1h-2zM119 178h5v1h-5zM793 178h4v1h-4zM803 178h3v1h-3zM807 178h2v1h-2zM41 179h1v1h-1zM66 179h1v1h-1zM68 179h2v1h-2zM72 179h2v1h-2zM76 179h3v1h-3zM80 179h7v1h-7zM89 179h10v1h-10zM101 179h1v1h-1zM116 179h2v1h-2zM119 179h2v1h-2zM716 179h3v1h-3zM796 179h3v1h-3zM804 179h1v1h-1zM808 179h2v1h-2zM811 179h2v1h-2zM815 179h1v1h-1zM34 180h1v1h-1zM65 180h1v1h-1zM78 180h3v1h-3zM83 180h3v1h-3zM87 180h3v1h-3zM92 180h2v1h-2zM96 180h2v1h-2zM112 180h4v1h-4zM117 180h1v1h-1zM719 180h2v1h-2zM786 180h1v1h-1zM810 180h3v1h-3zM38 181h1v1h-1zM40 181h1v1h-1zM42 181h6v1h-6zM53 181h2v1h-2zM57 181h2v1h-2zM61 181h2v1h-2zM70 181h1v1h-1zM72 181h3v1h-3zM77 181h3v1h-3zM84 181h3v1h-3zM89 181h1v1h-1zM91 181h2v1h-2zM95 181h1v1h-1zM111 181h2v1h-2zM114 181h2v1h-2zM722 181h2v1h-2zM790 181h1v1h-1zM793 181h2v1h-2zM800 181h2v1h-2zM803 181h1v1h-1zM806 181h2v1h-2zM809 181h2v1h-2zM812 181h2v1h-2zM54 182h1v1h-1zM56 182h1v1h-1zM58 182h1v1h-1zM70 182h1v1h-1zM72 182h1v1h-1zM74 182h1v1h-1zM76 182h2v1h-2zM79 182h3v1h-3zM83 182h2v1h-2zM89 182h1v1h-1zM92 182h1v1h-1zM106 182h2v1h-2zM111 182h1v1h-1zM724 182h1v1h-1zM810 182h3v1h-3zM33 183h3v1h-3zM42 183h3v1h-3zM49 183h2v1h-2zM52 183h2v1h-2zM56 183h1v1h-1zM60 183h3v1h-3zM66 183h2v1h-2zM70 183h1v1h-1zM72 183h1v1h-1zM74 183h2v1h-2zM80 183h1v1h-1zM82 183h2v1h-2zM86 183h2v1h-2zM103 183h1v1h-1zM105 183h2v1h-2zM727 183h1v1h-1zM791 183h3v1h-3zM799 183h7v1h-7zM807 183h4v1h-4zM40 184h1v1h-1zM43 184h1v1h-1zM47 184h1v1h-1zM50 184h1v1h-1zM68 184h1v1h-1zM71 184h1v1h-1zM100 184h6v1h-6zM728 184h1v1h-1zM730 184h1v1h-1zM61 185h1v1h-1zM97 185h1v1h-1zM99 185h4v1h-4zM731 185h4v1h-4zM56 186h2v1h-2zM60 186h1v1h-1zM93 186h5v1h-5zM735 186h4v1h-4zM32 187h1v1h-1zM37 187h1v1h-1zM39 187h1v1h-1zM43 187h1v1h-1zM45 187h2v1h-2zM50 187h1v1h-1zM89 187h6v1h-6zM96 187h1v1h-1zM739 187h2v1h-2zM742 187h2v1h-2zM820 187h1v1h-1zM85 188h2v1h-2zM90 188h2v1h-2zM742 188h2v1h-2zM745 188h1v1h-1zM83 189h2v1h-2zM86 189h1v1h-1zM745 189h5v1h-5zM78 190h2v1h-2zM82 190h1v1h-1zM747 190h3v1h-3zM751 190h1v1h-1zM74 191h4v1h-4zM752 191h1v1h-1zM755 191h1v1h-1zM71 192h1v1h-1zM73 192h1v1h-1zM76 192h2v1h-2zM754 192h2v1h-2zM757 192h2v1h-2zM66 193h6v1h-6zM760 193h2v1h-2zM767 193h2v1h-2zM771 193h2v1h-2zM62 194h1v1h-1zM64 194h1v1h-1zM760 194h1v1h-1zM766 194h1v1h-1zM775 194h2v1h-2zM57 195h2v1h-2zM60 195h2v1h-2zM763 195h6v1h-6zM777 195h4v1h-4zM54 196h1v1h-1zM59 196h1v1h-1zM62 196h1v1h-1zM767 196h1v1h-1zM771 196h3v1h-3zM775 196h1v1h-1zM47 197h6v1h-6zM58 197h1v1h-1zM770 197h4v1h-4zM775 197h1v1h-1zM777 197h4v1h-4zM782 197h1v1h-1zM784 197h1v1h-1zM792 197h4v1h-4zM797 197h1v1h-1zM800 197h5v1h-5zM806 197h9v1h-9zM816 197h1v1h-1zM820 197h4v1h-4zM41 198h4v1h-4zM51 198h1v1h-1zM54 198h2v1h-2zM777 198h5v1h-5zM784 198h1v1h-1zM786 198h2v1h-2zM792 198h2v1h-2zM798 198h2v1h-2zM804 198h1v1h-1zM808 198h3v1h-3zM817 198h1v1h-1zM821 198h1v1h-1zM26 199h5v1h-5zM33 199h3v1h-3zM38 199h2v1h-2zM42 199h1v1h-1zM45 199h2v1h-2zM48 199h1v1h-1zM784 199h2v1h-2zM787 199h3v1h-3zM794 199h4v1h-4zM801 199h2v1h-2zM805 199h1v1h-1zM807 199h1v1h-1zM812 199h2v1h-2zM817 199h2v1h-2zM820 199h2v1h-2zM26 200h1v1h-1zM28 200h3v1h-3zM36 200h3v1h-3zM788 200h3v1h-3zM794 200h3v1h-3zM798 200h2v1h-2zM801 200h1v1h-1zM803 200h1v1h-1zM806 200h4v1h-4zM815 200h1v1h-1zM793 201h4v1h-4zM807 201h1v1h-1zM821 201h3v1h-3zM803 202h2v1h-2zM57 203h1v1h-1zM59 203h1v1h-1zM53 204h4v1h-4zM48 205h2v1h-2zM51 205h1v1h-1zM43 206h2v1h-2zM47 206h1v1h-1zM38 207h2v1h-2zM33 208h1v1h-1zM35 208h1v1h-1zM37 208h1v1h-1zM792 208h2v1h-2zM796 208h2v1h-2zM26 209h1v1h-1zM28 209h3v1h-3zM799 209h1v1h-1zM801 209h6v1h-6zM809 209h1v1h-1zM812 209h1v1h-1zM814 209h1v1h-1zM816 209h2v1h-2zM819 209h1v1h-1zM23 210h2v1h-2zM824 210h3v1h-3zM828 210h1v1h-1z" fill="#000088"/>
<path d="M452 78h1v1h-1zM418 79h1v1h-1zM431 79h1v1h-1zM456 79h1v1h-1zM399 80h1v1h-1zM459 80h1v1h-1zM465 80h1v1h-1zM427 81h1v1h-1zM432 81h1v1h-1zM455 81h1v1h-1zM474 81h1v1h-1zM469 82h1v1h-1zM451 83h1v1h-1zM453 83h1v1h-1zM476 84h1v1h-1zM485 84h1v1h-1zM367 85h1v1h-1zM450 85h1v1h-1zM469 85h1v1h-1zM483 85h2v1h-2zM488 85h1v1h-1zM490 85h1v1h-1zM407 86h1v1h-1zM470 86h1v1h-1zM408 87h1v1h-1zM418 87h1v1h-1zM424 87h1v1h-1zM465 87h2v1h-2zM478 87h1v1h-1zM402 88h1v1h-1zM423 88h1v1h-1zM486 88h1v1h-1zM357 89h2v1h-2zM376 89h1v1h-1zM383 89h1v1h-1zM467 89h1v1h-1zM471 89h1v1h-1zM347 90h1v1h-1zM354 90h1v1h-1zM386 90h1v1h-1zM388 90h1v1h-1zM397 90h1v1h-1zM399 90h1v1h-1zM402 90h1v1h-1zM449 90h1v1h-1zM453 90h1v1h-1zM488 90h1v1h-1zM343 91h1v1h-1zM346 91h1v1h-1zM390 91h1v1h-1zM398 91h1v1h-1zM502 91h1v1h-1zM338 92h1v1h-1zM491 92h1v1h-1zM396 93h1v1h-1zM492 93h1v1h-1zM513 93h1v1h-1zM333 94h2v1h-2zM343 94h1v1h-1zM361 94h1v1h-1zM365 94h1v1h-1zM386 94h1v1h-1zM414 94h1v1h-1zM512 94h1v1h-1zM334 95h2v1h-2zM358 95h1v1h-1zM395 95h1v1h-1zM523 95h1v1h-1zM346 96h1v1h-1zM353 96h1v1h-1zM512 96h1v1h-1zM520 96h2v1h-2zM525 96h1v1h-1zM528 96h1v1h-1zM323 97h1v1h-1zM329 97h1v1h-1zM386 97h1v1h-1zM391 97h1v1h-1zM393 97h1v1h-1zM447 97h1v1h-1zM461 97h1v1h-1zM347 98h1v1h-1zM470 98h1v1h-1zM529 98h1v1h-1zM535 99h1v1h-1zM332 100h1v1h-1zM338 100h1v1h-1zM372 100h1v1h-1zM459 100h1v1h-1zM464 100h1v1h-1zM477 100h1v1h-1zM485 100h1v1h-1zM487 100h1v1h-1zM534 100h1v1h-1zM317 101h1v1h-1zM327 101h1v1h-1zM341 101h1v1h-1zM364 101h1v1h-1zM431 101h1v1h-1zM438 101h1v1h-1zM496 101h1v1h-1zM502 101h1v1h-1zM539 101h1v1h-1zM540 102h2v1h-2zM543 102h2v1h-2zM302 103h1v1h-1zM332 103h1v1h-1zM351 103h1v1h-1zM355 103h1v1h-1zM507 103h1v1h-1zM512 103h1v1h-1zM302 104h1v1h-1zM514 104h1v1h-1zM318 105h1v1h-1zM520 105h1v1h-1zM550 105h1v1h-1zM315 106h2v1h-2zM292 107h1v1h-1zM324 107h1v1h-1zM338 107h1v1h-1zM290 108h1v1h-1zM306 108h1v1h-1zM309 108h1v1h-1zM312 108h2v1h-2zM317 108h1v1h-1zM557 108h1v1h-1zM284 109h1v1h-1zM295 109h1v1h-1zM549 109h1v1h-1zM295 110h1v1h-1zM560 110h1v1h-1zM556 111h1v1h-1zM290 112h1v1h-1zM291 113h1v1h-1zM301 113h1v1h-1zM310 113h1v1h-1zM271 114h1v1h-1zM290 114h1v1h-1zM295 114h1v1h-1zM268 115h1v1h-1zM270 115h1v1h-1zM296 115h1v1h-1zM272 116h1v1h-1zM286 116h1v1h-1zM294 116h1v1h-1zM578 116h1v1h-1zM284 117h1v1h-1zM579 117h1v1h-1zM585 117h2v1h-2zM263 118h1v1h-1zM296 118h1v1h-1zM585 118h1v1h-1zM266 119h1v1h-1zM274 119h1v1h-1zM591 119h1v1h-1zM595 119h1v1h-1zM599 119h1v1h-1zM267 120h1v1h-1zM585 120h2v1h-2zM588 120h1v1h-1zM598 120h1v1h-1zM279 121h1v1h-1zM284 121h1v1h-1zM601 121h1v1h-1zM258 122h1v1h-1zM264 122h1v1h-1zM606 122h1v1h-1zM254 123h1v1h-1zM263 123h1v1h-1zM271 123h1v1h-1zM275 123h1v1h-1zM281 123h1v1h-1zM602 123h1v1h-1zM604 123h1v1h-1zM277 124h1v1h-1zM594 124h1v1h-1zM607 124h1v1h-1zM614 124h1v1h-1zM253 125h1v1h-1zM271 125h1v1h-1zM600 125h2v1h-2zM244 126h1v1h-1zM248 126h1v1h-1zM257 126h1v1h-1zM248 127h1v1h-1zM251 127h1v1h-1zM254 127h1v1h-1zM259 127h1v1h-1zM264 127h1v1h-1zM267 127h1v1h-1zM606 127h1v1h-1zM613 127h1v1h-1zM607 128h1v1h-1zM617 128h1v1h-1zM611 129h1v1h-1zM623 129h1v1h-1zM246 130h1v1h-1zM621 130h1v1h-1zM631 130h1v1h-1zM236 131h2v1h-2zM239 131h1v1h-1zM244 131h1v1h-1zM613 131h1v1h-1zM617 131h1v1h-1zM639 131h1v1h-1zM244 132h1v1h-1zM640 132h1v1h-1zM616 133h1v1h-1zM645 133h1v1h-1zM648 133h2v1h-2zM652 133h1v1h-1zM628 134h1v1h-1zM233 135h1v1h-1zM234 136h1v1h-1zM634 136h1v1h-1zM229 137h1v1h-1zM626 137h1v1h-1zM634 137h1v1h-1zM637 137h1v1h-1zM662 138h1v1h-1zM666 138h1v1h-1zM212 139h1v1h-1zM219 139h1v1h-1zM222 139h1v1h-1zM632 140h1v1h-1zM657 140h1v1h-1zM231 141h1v1h-1zM635 141h1v1h-1zM664 141h1v1h-1zM681 141h1v1h-1zM206 142h1v1h-1zM212 142h1v1h-1zM226 142h1v1h-1zM234 142h1v1h-1zM669 142h1v1h-1zM685 142h1v1h-1zM202 143h1v1h-1zM687 143h1v1h-1zM205 144h1v1h-1zM217 144h1v1h-1zM655 144h1v1h-1zM686 144h1v1h-1zM197 145h1v1h-1zM215 145h1v1h-1zM656 145h1v1h-1zM682 145h1v1h-1zM685 145h1v1h-1zM198 146h1v1h-1zM218 146h1v1h-1zM679 146h1v1h-1zM687 146h1v1h-1zM191 147h1v1h-1zM206 147h1v1h-1zM189 148h1v1h-1zM192 148h1v1h-1zM195 148h1v1h-1zM665 148h1v1h-1zM207 149h1v1h-1zM186 150h1v1h-1zM713 150h1v1h-1zM186 151h1v1h-1zM201 151h2v1h-2zM204 151h1v1h-1zM660 151h1v1h-1zM708 151h1v1h-1zM195 152h1v1h-1zM662 152h1v1h-1zM664 152h1v1h-1zM702 152h1v1h-1zM708 153h1v1h-1zM175 156h1v1h-1zM179 156h1v1h-1zM664 156h1v1h-1zM174 158h1v1h-1zM163 160h1v1h-1zM156 162h1v1h-1zM161 162h1v1h-1zM153 163h1v1h-1zM155 163h1v1h-1zM678 163h1v1h-1zM790 163h1v1h-1zM792 163h1v1h-1zM154 164h1v1h-1zM681 164h1v1h-1zM703 164h1v1h-1zM124 165h2v1h-2zM799 165h1v1h-1zM804 165h1v1h-1zM806 165h1v1h-1zM50 166h1v1h-1zM52 166h1v1h-1zM67 166h1v1h-1zM70 166h1v1h-1zM72 166h1v1h-1zM80 166h1v1h-1zM94 166h1v1h-1zM103 166h1v1h-1zM117 166h1v1h-1zM121 166h1v1h-1zM154 166h1v1h-1zM46 167h1v1h-1zM102 167h1v1h-1zM119 167h1v1h-1zM149 167h1v1h-1zM64 168h1v1h-1zM93 168h1v1h-1zM97 168h1v1h-1zM113 168h1v1h-1zM118 168h1v1h-1zM145 168h1v1h-1zM793 168h1v1h-1zM68 169h1v1h-1zM88 169h1v1h-1zM805 169h1v1h-1zM809 169h1v1h-1zM72 170h1v1h-1zM136 170h1v1h-1zM146 170h1v1h-1zM45 171h1v1h-1zM52 171h1v1h-1zM54 171h1v1h-1zM62 171h1v1h-1zM71 171h1v1h-1zM79 171h1v1h-1zM91 171h1v1h-1zM101 171h1v1h-1zM109 171h1v1h-1zM133 171h1v1h-1zM790 171h1v1h-1zM796 171h1v1h-1zM804 171h1v1h-1zM90 172h1v1h-1zM113 172h1v1h-1zM119 172h1v1h-1zM797 172h1v1h-1zM50 173h1v1h-1zM57 173h2v1h-2zM73 173h1v1h-1zM88 173h1v1h-1zM97 173h1v1h-1zM101 173h1v1h-1zM114 173h1v1h-1zM122 173h1v1h-1zM138 173h2v1h-2zM83 174h1v1h-1zM92 174h1v1h-1zM108 174h1v1h-1zM111 174h1v1h-1zM135 174h1v1h-1zM73 175h1v1h-1zM78 175h1v1h-1zM104 175h1v1h-1zM57 176h1v1h-1zM63 176h1v1h-1zM79 176h1v1h-1zM84 176h1v1h-1zM86 176h1v1h-1zM95 176h1v1h-1zM99 176h1v1h-1zM107 176h1v1h-1zM96 177h1v1h-1zM102 177h1v1h-1zM712 177h1v1h-1zM46 178h1v1h-1zM48 178h1v1h-1zM69 178h1v1h-1zM82 178h1v1h-1zM105 178h1v1h-1zM714 178h1v1h-1zM792 178h1v1h-1zM121 179h1v1h-1zM814 179h1v1h-1zM71 180h1v1h-1zM86 180h1v1h-1zM116 180h1v1h-1zM55 181h2v1h-2zM59 181h1v1h-1zM66 181h1v1h-1zM81 181h1v1h-1zM791 181h1v1h-1zM804 181h1v1h-1zM811 181h1v1h-1zM71 182h1v1h-1zM93 182h1v1h-1zM41 183h1v1h-1zM68 183h1v1h-1zM104 183h1v1h-1zM726 183h1v1h-1zM812 183h1v1h-1zM60 184h1v1h-1zM38 187h1v1h-1zM95 187h1v1h-1zM741 187h1v1h-1zM92 188h1v1h-1zM746 188h1v1h-1zM82 189h1v1h-1zM87 189h1v1h-1zM81 190h1v1h-1zM752 190h2v1h-2zM81 191h1v1h-1zM753 191h1v1h-1zM72 193h1v1h-1zM770 193h1v1h-1zM67 194h1v1h-1zM761 194h1v1h-1zM764 194h1v1h-1zM773 194h2v1h-2zM59 195h1v1h-1zM63 195h1v1h-1zM66 195h1v1h-1zM56 196h1v1h-1zM774 196h1v1h-1zM783 197h1v1h-1zM791 197h1v1h-1zM805 197h1v1h-1zM45 198h1v1h-1zM820 198h1v1h-1zM25 199h1v1h-1zM32 199h1v1h-1zM47 199h1v1h-1zM793 199h1v1h-1zM808 199h1v1h-1zM811 199h1v1h-1zM25 200h1v1h-1zM32 200h1v1h-1zM787 200h1v1h-1zM797 201h1v1h-1zM824 201h1v1h-1zM52 204h1v1h-1zM40 207h2v1h-2zM32 208h1v1h-1zM794 208h2v1h-2zM31 209h1v1h-1zM798 209h1v1h-1zM22 210h1v1h-1z" fill="#0000b0"/>
<path d="M418 77h1v1h-1zM428 77h2v1h-2zM437 77h1v1h-1zM440 77h1v1h-1zM428 78h1v1h-1zM432 78h1v1h-1zM442 78h1v1h-1zM445 78h1v1h-1zM450 78h1v1h-1zM408 79h1v1h-1zM410 79h1v1h-1zM454 79h1v1h-1zM405 80h1v1h-1zM413 80h1v1h-1zM463 80h1v1h-1zM394 81h1v1h-1zM401 81h1v1h-1zM418 81h1v1h-1zM422 81h1v1h-1zM456 81h1v1h-1zM460 81h1v1h-1zM475 82h1v1h-1zM432 83h1v1h-1zM439 83h1v1h-1zM441 83h1v1h-1zM469 83h1v1h-1zM474 83h1v1h-1zM479 83h1v1h-1zM482 83h1v1h-1zM432 84h1v1h-1zM445 84h1v1h-1zM458 84h1v1h-1zM413 85h2v1h-2zM425 85h1v1h-1zM434 85h1v1h-1zM467 85h1v1h-1zM470 85h1v1h-1zM369 86h1v1h-1zM412 86h1v1h-1zM432 86h1v1h-1zM456 86h1v1h-1zM475 86h1v1h-1zM483 86h1v1h-1zM486 86h1v1h-1zM491 86h1v1h-1zM493 86h3v1h-3zM400 87h1v1h-1zM409 87h1v1h-1zM413 87h1v1h-1zM468 87h1v1h-1zM474 87h1v1h-1zM481 87h1v1h-1zM497 87h2v1h-2zM500 87h1v1h-1zM355 88h1v1h-1zM396 88h1v1h-1zM417 88h1v1h-1zM428 88h1v1h-1zM468 88h1v1h-1zM470 88h1v1h-1zM484 88h1v1h-1zM362 89h1v1h-1zM403 89h1v1h-1zM409 89h1v1h-1zM439 89h2v1h-2zM496 89h1v1h-1zM506 89h2v1h-2zM350 90h1v1h-1zM359 90h1v1h-1zM373 90h1v1h-1zM406 90h1v1h-1zM413 90h1v1h-1zM423 90h1v1h-1zM427 90h2v1h-2zM433 90h1v1h-1zM478 90h1v1h-1zM487 90h1v1h-1zM510 90h1v1h-1zM344 91h1v1h-1zM361 91h1v1h-1zM371 91h1v1h-1zM385 91h1v1h-1zM410 91h1v1h-1zM514 91h1v1h-1zM345 92h1v1h-1zM366 92h1v1h-1zM373 92h1v1h-1zM375 92h1v1h-1zM379 92h2v1h-2zM392 92h1v1h-1zM402 92h1v1h-1zM404 92h1v1h-1zM412 92h1v1h-1zM414 92h1v1h-1zM417 92h1v1h-1zM428 92h1v1h-1zM507 92h1v1h-1zM518 92h1v1h-1zM333 93h1v1h-1zM344 93h1v1h-1zM357 93h1v1h-1zM376 93h1v1h-1zM416 93h1v1h-1zM509 93h1v1h-1zM520 93h2v1h-2zM328 94h1v1h-1zM340 94h1v1h-1zM346 94h1v1h-1zM375 94h1v1h-1zM379 94h1v1h-1zM383 94h1v1h-1zM387 94h1v1h-1zM498 94h1v1h-1zM326 95h1v1h-1zM348 95h1v1h-1zM353 95h1v1h-1zM363 95h1v1h-1zM367 95h1v1h-1zM373 95h1v1h-1zM385 95h1v1h-1zM515 95h1v1h-1zM525 95h1v1h-1zM527 95h1v1h-1zM333 96h1v1h-1zM356 96h1v1h-1zM360 96h1v1h-1zM370 96h1v1h-1zM375 96h1v1h-1zM382 96h1v1h-1zM510 96h1v1h-1zM318 97h1v1h-1zM331 97h1v1h-1zM350 97h1v1h-1zM359 97h1v1h-1zM373 97h1v1h-1zM390 97h1v1h-1zM436 97h1v1h-1zM451 97h2v1h-2zM454 97h1v1h-1zM459 97h1v1h-1zM464 97h1v1h-1zM523 97h1v1h-1zM525 97h1v1h-1zM530 97h1v1h-1zM532 97h1v1h-1zM323 98h1v1h-1zM338 98h1v1h-1zM348 98h1v1h-1zM352 98h1v1h-1zM372 98h1v1h-1zM380 98h1v1h-1zM384 98h1v1h-1zM473 98h1v1h-1zM481 98h1v1h-1zM533 98h3v1h-3zM341 99h1v1h-1zM358 99h1v1h-1zM490 99h1v1h-1zM530 99h1v1h-1zM538 99h1v1h-1zM319 100h1v1h-1zM343 100h1v1h-1zM358 100h1v1h-1zM366 100h1v1h-1zM450 100h1v1h-1zM474 100h1v1h-1zM488 100h2v1h-2zM533 100h1v1h-1zM539 100h3v1h-3zM308 101h1v1h-1zM310 101h1v1h-1zM340 101h1v1h-1zM350 101h2v1h-2zM355 101h1v1h-1zM360 101h1v1h-1zM434 101h3v1h-3zM439 101h1v1h-1zM443 101h2v1h-2zM499 101h1v1h-1zM504 101h1v1h-1zM537 101h1v1h-1zM304 102h1v1h-1zM334 102h1v1h-1zM426 102h1v1h-1zM539 102h1v1h-1zM323 103h1v1h-1zM327 103h1v1h-1zM331 103h1v1h-1zM341 103h1v1h-1zM511 103h1v1h-1zM513 103h1v1h-1zM543 103h2v1h-2zM547 103h2v1h-2zM297 104h1v1h-1zM343 104h1v1h-1zM549 104h3v1h-3zM305 105h1v1h-1zM308 105h1v1h-1zM312 105h1v1h-1zM322 105h1v1h-1zM328 105h1v1h-1zM333 105h1v1h-1zM342 105h1v1h-1zM522 105h1v1h-1zM292 106h1v1h-1zM294 106h1v1h-1zM301 106h1v1h-1zM306 106h1v1h-1zM336 106h1v1h-1zM529 106h1v1h-1zM295 107h1v1h-1zM304 107h1v1h-1zM557 107h1v1h-1zM316 108h1v1h-1zM330 108h2v1h-2zM545 108h1v1h-1zM559 108h2v1h-2zM306 109h1v1h-1zM310 109h1v1h-1zM313 109h1v1h-1zM547 109h1v1h-1zM561 109h2v1h-2zM303 110h1v1h-1zM552 110h1v1h-1zM565 110h1v1h-1zM291 111h2v1h-2zM297 111h1v1h-1zM305 111h1v1h-1zM316 111h1v1h-1zM557 111h1v1h-1zM277 112h1v1h-1zM289 112h1v1h-1zM299 112h1v1h-1zM304 112h1v1h-1zM568 112h1v1h-1zM280 113h1v1h-1zM569 113h1v1h-1zM572 113h1v1h-1zM280 114h1v1h-1zM299 114h1v1h-1zM573 114h1v1h-1zM576 114h1v1h-1zM273 115h1v1h-1zM278 115h1v1h-1zM306 115h1v1h-1zM577 115h1v1h-1zM579 115h1v1h-1zM276 116h1v1h-1zM304 116h1v1h-1zM580 116h1v1h-1zM265 117h1v1h-1zM271 117h1v1h-1zM273 117h2v1h-2zM279 117h1v1h-1zM283 117h1v1h-1zM293 117h1v1h-1zM298 117h1v1h-1zM580 117h1v1h-1zM582 118h1v1h-1zM587 118h1v1h-1zM590 118h3v1h-3zM265 119h1v1h-1zM269 119h1v1h-1zM271 119h1v1h-1zM585 119h1v1h-1zM596 119h3v1h-3zM258 120h1v1h-1zM601 120h2v1h-2zM265 121h1v1h-1zM588 121h1v1h-1zM604 121h2v1h-2zM273 122h1v1h-1zM283 122h1v1h-1zM590 122h2v1h-2zM597 122h1v1h-1zM280 123h1v1h-1zM595 123h1v1h-1zM611 123h1v1h-1zM252 124h1v1h-1zM259 124h1v1h-1zM269 124h1v1h-1zM609 124h1v1h-1zM615 124h1v1h-1zM248 125h1v1h-1zM254 125h3v1h-3zM258 125h1v1h-1zM263 125h1v1h-1zM273 125h1v1h-1zM607 125h1v1h-1zM253 126h1v1h-1zM265 126h1v1h-1zM270 126h1v1h-1zM599 126h1v1h-1zM610 126h1v1h-1zM619 126h1v1h-1zM268 127h1v1h-1zM602 127h1v1h-1zM624 127h3v1h-3zM249 128h1v1h-1zM627 128h4v1h-4zM236 129h1v1h-1zM247 129h1v1h-1zM251 129h1v1h-1zM259 129h1v1h-1zM606 129h1v1h-1zM612 129h1v1h-1zM634 129h1v1h-1zM234 130h2v1h-2zM237 130h1v1h-1zM242 130h1v1h-1zM247 130h1v1h-1zM249 130h1v1h-1zM614 130h1v1h-1zM636 130h4v1h-4zM251 131h1v1h-1zM635 131h1v1h-1zM637 131h1v1h-1zM640 131h1v1h-1zM642 131h1v1h-1zM644 131h1v1h-1zM237 132h1v1h-1zM246 132h1v1h-1zM620 132h1v1h-1zM629 132h1v1h-1zM243 133h1v1h-1zM618 133h1v1h-1zM622 133h1v1h-1zM227 134h1v1h-1zM237 134h1v1h-1zM223 135h1v1h-1zM646 135h1v1h-1zM649 135h1v1h-1zM248 136h1v1h-1zM626 136h1v1h-1zM640 136h1v1h-1zM651 136h1v1h-1zM658 136h1v1h-1zM665 136h1v1h-1zM228 137h1v1h-1zM246 137h1v1h-1zM628 137h1v1h-1zM644 137h1v1h-1zM657 137h1v1h-1zM226 138h1v1h-1zM655 138h1v1h-1zM660 138h1v1h-1zM670 138h2v1h-2zM640 139h1v1h-1zM661 139h1v1h-1zM667 139h1v1h-1zM673 139h1v1h-1zM231 140h1v1h-1zM636 140h1v1h-1zM663 140h1v1h-1zM666 140h2v1h-2zM227 141h1v1h-1zM669 141h2v1h-2zM677 141h1v1h-1zM680 141h1v1h-1zM213 142h1v1h-1zM648 142h1v1h-1zM683 142h1v1h-1zM200 143h1v1h-1zM208 143h1v1h-1zM222 143h1v1h-1zM224 143h1v1h-1zM651 143h1v1h-1zM681 143h1v1h-1zM683 143h1v1h-1zM226 144h2v1h-2zM653 144h1v1h-1zM690 144h1v1h-1zM222 145h1v1h-1zM224 145h1v1h-1zM643 145h1v1h-1zM646 145h1v1h-1zM689 145h1v1h-1zM692 145h1v1h-1zM202 146h1v1h-1zM653 146h1v1h-1zM686 146h1v1h-1zM686 147h1v1h-1zM692 147h1v1h-1zM695 147h1v1h-1zM703 147h1v1h-1zM203 148h1v1h-1zM699 148h1v1h-1zM190 149h1v1h-1zM192 149h1v1h-1zM194 149h1v1h-1zM210 149h1v1h-1zM651 149h1v1h-1zM693 149h1v1h-1zM187 150h1v1h-1zM184 151h1v1h-1zM190 151h1v1h-1zM194 151h1v1h-1zM181 152h1v1h-1zM187 152h1v1h-1zM189 152h1v1h-1zM204 152h1v1h-1zM705 152h1v1h-1zM710 152h1v1h-1zM713 152h1v1h-1zM187 153h1v1h-1zM181 154h1v1h-1zM660 154h1v1h-1zM710 154h1v1h-1zM176 155h1v1h-1zM663 155h1v1h-1zM172 157h1v1h-1zM174 157h1v1h-1zM669 158h1v1h-1zM170 159h1v1h-1zM688 159h1v1h-1zM167 160h1v1h-1zM673 160h1v1h-1zM150 162h2v1h-2zM146 163h1v1h-1zM156 163h1v1h-1zM699 163h1v1h-1zM800 163h1v1h-1zM136 164h1v1h-1zM139 164h1v1h-1zM151 164h1v1h-1zM680 164h1v1h-1zM120 165h1v1h-1zM128 165h1v1h-1zM158 165h1v1h-1zM683 165h1v1h-1zM45 166h1v1h-1zM48 166h1v1h-1zM83 166h1v1h-1zM85 166h2v1h-2zM93 166h1v1h-1zM96 166h1v1h-1zM100 166h1v1h-1zM111 166h1v1h-1zM118 166h1v1h-1zM141 166h1v1h-1zM153 166h1v1h-1zM684 166h1v1h-1zM709 166h1v1h-1zM52 167h1v1h-1zM60 167h1v1h-1zM71 167h1v1h-1zM109 167h1v1h-1zM129 167h1v1h-1zM144 167h1v1h-1zM151 167h1v1h-1zM687 167h1v1h-1zM789 167h1v1h-1zM794 167h1v1h-1zM801 167h1v1h-1zM803 167h2v1h-2zM46 168h1v1h-1zM54 168h2v1h-2zM62 168h1v1h-1zM65 168h1v1h-1zM72 168h1v1h-1zM132 168h1v1h-1zM791 168h2v1h-2zM76 169h1v1h-1zM107 169h1v1h-1zM112 169h1v1h-1zM133 169h1v1h-1zM150 169h1v1h-1zM793 169h1v1h-1zM56 170h1v1h-1zM80 170h1v1h-1zM113 170h1v1h-1zM126 170h2v1h-2zM130 170h1v1h-1zM140 170h1v1h-1zM143 170h1v1h-1zM145 170h1v1h-1zM147 170h1v1h-1zM64 171h1v1h-1zM70 171h1v1h-1zM73 171h1v1h-1zM82 171h1v1h-1zM94 171h2v1h-2zM98 171h1v1h-1zM107 171h1v1h-1zM126 171h1v1h-1zM698 171h1v1h-1zM788 171h1v1h-1zM799 171h1v1h-1zM801 171h1v1h-1zM803 171h1v1h-1zM111 172h1v1h-1zM133 172h1v1h-1zM796 172h1v1h-1zM805 172h1v1h-1zM40 173h1v1h-1zM46 173h1v1h-1zM48 173h1v1h-1zM54 173h1v1h-1zM63 173h1v1h-1zM79 173h1v1h-1zM64 174h1v1h-1zM85 174h1v1h-1zM110 174h1v1h-1zM124 174h1v1h-1zM133 174h1v1h-1zM705 174h1v1h-1zM67 175h1v1h-1zM70 175h2v1h-2zM80 175h1v1h-1zM85 175h1v1h-1zM92 175h1v1h-1zM97 175h1v1h-1zM118 175h1v1h-1zM121 175h1v1h-1zM129 175h3v1h-3zM806 175h1v1h-1zM38 176h1v1h-1zM41 176h1v1h-1zM45 176h1v1h-1zM59 176h1v1h-1zM70 176h1v1h-1zM76 176h1v1h-1zM81 176h1v1h-1zM91 176h1v1h-1zM109 176h1v1h-1zM127 176h2v1h-2zM802 176h1v1h-1zM80 177h1v1h-1zM109 177h1v1h-1zM111 177h1v1h-1zM122 177h1v1h-1zM127 177h1v1h-1zM41 178h1v1h-1zM44 178h2v1h-2zM62 178h1v1h-1zM79 178h1v1h-1zM90 178h1v1h-1zM104 178h1v1h-1zM124 178h1v1h-1zM132 178h1v1h-1zM715 178h1v1h-1zM806 178h1v1h-1zM87 179h1v1h-1zM100 179h1v1h-1zM810 179h1v1h-1zM813 179h1v1h-1zM91 180h1v1h-1zM797 180h1v1h-1zM39 181h1v1h-1zM49 181h1v1h-1zM60 181h1v1h-1zM67 181h3v1h-3zM82 181h1v1h-1zM87 181h1v1h-1zM90 181h1v1h-1zM94 181h1v1h-1zM110 181h1v1h-1zM113 181h1v1h-1zM799 181h1v1h-1zM802 181h1v1h-1zM805 181h1v1h-1zM808 181h1v1h-1zM85 182h1v1h-1zM88 182h1v1h-1zM108 182h1v1h-1zM110 182h1v1h-1zM725 182h1v1h-1zM40 183h1v1h-1zM47 183h2v1h-2zM51 183h1v1h-1zM57 183h3v1h-3zM69 183h1v1h-1zM78 183h2v1h-2zM107 183h1v1h-1zM811 183h1v1h-1zM38 184h1v1h-1zM99 186h1v1h-1zM31 187h1v1h-1zM33 187h1v1h-1zM36 187h1v1h-1zM40 187h1v1h-1zM44 187h1v1h-1zM88 188h1v1h-1zM740 188h2v1h-2zM751 191h1v1h-1zM759 192h1v1h-1zM757 193h3v1h-3zM769 193h1v1h-1zM65 194h1v1h-1zM763 194h1v1h-1zM765 194h1v1h-1zM53 196h1v1h-1zM768 196h1v1h-1zM770 196h1v1h-1zM774 197h1v1h-1zM781 197h1v1h-1zM788 197h1v1h-1zM796 197h1v1h-1zM815 197h1v1h-1zM819 197h1v1h-1zM50 198h1v1h-1zM782 198h1v1h-1zM785 198h1v1h-1zM803 198h1v1h-1zM36 199h1v1h-1zM43 199h1v1h-1zM792 199h1v1h-1zM806 199h1v1h-1zM810 199h1v1h-1zM819 199h1v1h-1zM33 200h1v1h-1zM802 200h1v1h-1zM804 200h2v1h-2zM806 201h1v1h-1zM808 201h1v1h-1zM820 201h1v1h-1zM805 202h1v1h-1zM60 203h2v1h-2zM45 206h2v1h-2zM36 208h1v1h-1zM807 209h2v1h-2zM811 209h1v1h-1zM813 209h1v1h-1zM815 209h1v1h-1zM818 209h1v1h-1zM25 210h1v1h-1zM821 210h3v1h-3zM827 210h1v1h-1z" fill="#0000f0"/>
<path d="M425 77h1v1h-1zM386 82h1v1h-1zM389 82h1v1h-1zM462 82h1v1h-1zM439 85h1v1h-1zM482 85h1v1h-1zM496 86h1v1h-1zM489 87h1v1h-1zM499 87h1v1h-1zM418 88h1v1h-1zM451 88h1v1h-1zM473 88h1v1h-1zM368 89h1v1h-1zM443 89h1v1h-1zM508 89h1v1h-1zM489 90h2v1h-2zM509 90h1v1h-1zM349 91h1v1h-1zM383 91h1v1h-1zM482 91h1v1h-1zM515 91h1v1h-1zM352 92h1v1h-1zM355 92h1v1h-1zM364 92h1v1h-1zM386 92h1v1h-1zM506 92h1v1h-1zM517 92h1v1h-1zM334 93h1v1h-1zM405 93h1v1h-1zM523 94h1v1h-1zM332 95h1v1h-1zM337 96h1v1h-1zM376 96h1v1h-1zM513 96h1v1h-1zM377 97h1v1h-1zM450 97h1v1h-1zM457 97h1v1h-1zM528 98h1v1h-1zM317 99h1v1h-1zM334 99h1v1h-1zM364 99h1v1h-1zM481 100h1v1h-1zM326 101h1v1h-1zM542 101h2v1h-2zM504 102h1v1h-1zM309 103h1v1h-1zM293 106h1v1h-1zM302 106h1v1h-1zM330 106h1v1h-1zM554 106h1v1h-1zM294 108h1v1h-1zM326 108h1v1h-1zM304 109h2v1h-2zM311 109h1v1h-1zM558 109h1v1h-1zM281 110h1v1h-1zM563 110h1v1h-1zM301 111h1v1h-1zM566 111h2v1h-2zM303 112h1v1h-1zM575 114h1v1h-1zM282 115h1v1h-1zM267 116h1v1h-1zM290 116h1v1h-1zM582 116h1v1h-1zM583 117h1v1h-1zM271 118h1v1h-1zM278 118h1v1h-1zM290 118h1v1h-1zM589 118h1v1h-1zM260 120h1v1h-1zM274 120h1v1h-1zM253 124h1v1h-1zM612 124h1v1h-1zM241 128h1v1h-1zM631 129h2v1h-2zM242 131h1v1h-1zM641 131h1v1h-1zM229 132h1v1h-1zM614 132h1v1h-1zM637 133h1v1h-1zM234 134h1v1h-1zM653 134h1v1h-1zM652 135h1v1h-1zM232 136h1v1h-1zM649 136h1v1h-1zM221 139h1v1h-1zM641 139h1v1h-1zM670 139h1v1h-1zM645 140h1v1h-1zM646 141h1v1h-1zM231 142h1v1h-1zM689 142h1v1h-1zM223 143h1v1h-1zM680 143h1v1h-1zM228 144h1v1h-1zM649 144h1v1h-1zM687 144h1v1h-1zM193 146h1v1h-1zM647 146h1v1h-1zM197 147h1v1h-1zM218 147h1v1h-1zM209 148h1v1h-1zM209 150h1v1h-1zM209 151h1v1h-1zM657 151h1v1h-1zM658 153h1v1h-1zM674 154h1v1h-1zM164 160h1v1h-1zM160 161h1v1h-1zM133 164h1v1h-1zM123 165h1v1h-1zM150 165h1v1h-1zM95 166h1v1h-1zM135 166h1v1h-1zM149 166h1v1h-1zM81 167h1v1h-1zM799 167h1v1h-1zM70 168h2v1h-2zM83 168h1v1h-1zM713 168h1v1h-1zM73 169h1v1h-1zM102 169h1v1h-1zM788 169h1v1h-1zM55 170h1v1h-1zM58 170h1v1h-1zM75 170h1v1h-1zM144 170h1v1h-1zM108 171h1v1h-1zM55 173h1v1h-1zM74 173h1v1h-1zM109 173h1v1h-1zM129 173h1v1h-1zM135 173h1v1h-1zM120 174h1v1h-1zM790 174h1v1h-1zM812 174h1v1h-1zM79 175h1v1h-1zM93 175h1v1h-1zM105 175h1v1h-1zM114 175h2v1h-2zM53 176h1v1h-1zM66 176h1v1h-1zM85 177h1v1h-1zM35 178h1v1h-1zM101 178h1v1h-1zM131 178h1v1h-1zM102 179h1v1h-1zM73 180h1v1h-1zM41 181h1v1h-1zM94 182h1v1h-1zM108 183h1v1h-1zM806 183h1v1h-1zM53 187h1v1h-1zM754 191h1v1h-1zM818 197h1v1h-1zM811 198h1v1h-1zM40 199h1v1h-1zM35 200h1v1h-1zM41 200h1v1h-1z" fill="#0048ff"/>
</g>
<rect x="221.5" y="464.5" width="408" height="17" fill="url(#jet)" stroke="#000" stroke-width="1"/>
<text x="425.5" y="23" text-anchor="middle" font-size="20" font-family="'DejaVu Sans','Liberation Sans',sans-serif" fill="#000">I Stokes</text>
<text x="718.2" y="419.6" font-size="19.44" font-weight="bold" font-family="'DejaVu Sans','Liberation Sans',sans-serif" fill="#000">Galactic</text>
<text x="221.4" y="498" text-anchor="middle" font-size="16" font-family="'DejaVu Sans','Liberation Sans',sans-serif" fill="#000">0</text>
<text x="628.5" y="498" text-anchor="middle" font-size="16" font-family="'DejaVu Sans','Liberation Sans',sans-serif" fill="#000">0.5</text>
</svg>
</body></html>
